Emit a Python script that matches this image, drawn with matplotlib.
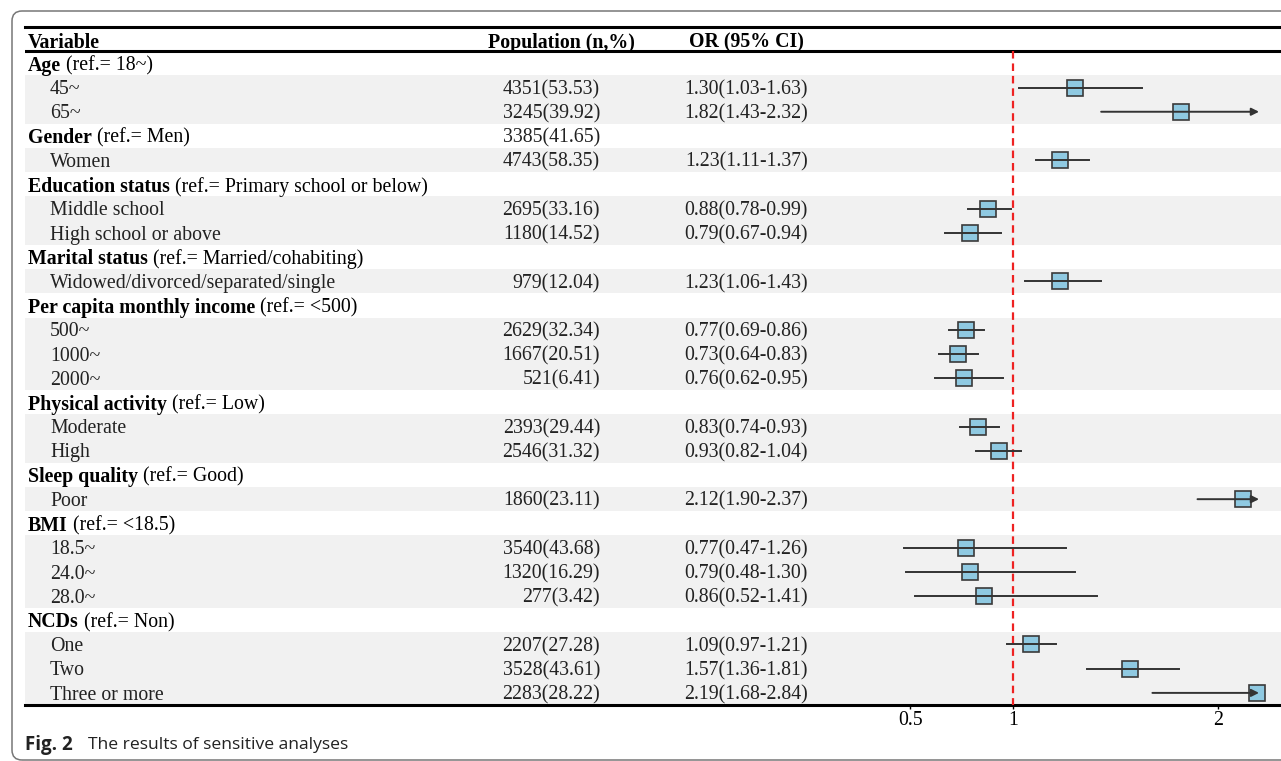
import matplotlib
matplotlib.use("Agg")
from matplotlib import pyplot as plt
from matplotlib import transforms
from matplotlib.patches import FancyBboxPatch

# table rows, top to bottom (ref is None for sub rows)
labels = ["Age", "45~", "65~", "Gender", "Women",
          "Education status", "Middle school", "High school or above",
          "Marital status", "Widowed/divorced/separated/single",
          "Per capita monthly income", "500~", "1000~", "2000~",
          "Physical activity", "Moderate", "High",
          "Sleep quality", "Poor",
          "BMI", "18.5~", "24.0~", "28.0~",
          "NCDs", "One", "Two", "Three or more"]
refs = ["(ref.= 18~)", None, None, "(ref.= Men)", None,
        "(ref.= Primary school or below)", None, None,
        "(ref.= Married/cohabiting)", None,
        "(ref.= <500)", None, None, None,
        "(ref.= Low)", None, None,
        "(ref.= Good)", None,
        "(ref.= <18.5)", None, None, None,
        "(ref.= Non)", None, None, None]
pops = ["", "4351(53.53)", "3245(39.92)", "3385(41.65)", "4743(58.35)",
        "", "2695(33.16)", "1180(14.52)",
        "", "979(12.04)",
        "", "2629(32.34)", "1667(20.51)", "521(6.41)",
        "", "2393(29.44)", "2546(31.32)",
        "", "1860(23.11)",
        "", "3540(43.68)", "1320(16.29)", "277(3.42)",
        "", "2207(27.28)", "3528(43.61)", "2283(28.22)"]
ors = [None, 1.30, 1.82, None, 1.23,
       None, 0.88, 0.79,
       None, 1.23,
       None, 0.77, 0.73, 0.76,
       None, 0.83, 0.93,
       None, 2.12,
       None, 0.77, 0.79, 0.86,
       None, 1.09, 1.57, 2.19]
lows = [None, 1.03, 1.43, None, 1.11,
        None, 0.78, 0.67,
        None, 1.06,
        None, 0.69, 0.64, 0.62,
        None, 0.74, 0.82,
        None, 1.90,
        None, 0.47, 0.48, 0.52,
        None, 0.97, 1.36, 1.68]
highs = [None, 1.63, 2.32, None, 1.37,
         None, 0.99, 0.94,
         None, 1.43,
         None, 0.86, 0.83, 0.95,
         None, 0.93, 1.04,
         None, 2.37,
         None, 1.26, 1.30, 1.41,
         None, 1.21, 1.81, 2.84]
xticks = [0.5, 1, 2]
cap = 2.2  # arrows are drawn where CI goes past this

serif = "Liberation Serif"
fs = 14.3
box_color = "#8fc9e1"
dy = 0.09  # nudge text down a little to sit like the original

fig = plt.figure(figsize=(12.81, 7.61), dpi=100)
W, H = 1281, 761

# rounded frame around the whole figure
frame = FancyBboxPatch((12, 1), 1320, 749, boxstyle="round,pad=0,rounding_size=10",
                       transform=None, facecolor="none", edgecolor="#777777", lw=1.1)
fig.patches.append(frame)

ax = fig.add_axes([25 / W, 1 - 705 / H, 1256 / W, 678 / H])
# linear OR scale: 1 -> 1013 px, 205 px per unit
ax.set_xlim(1 + (25 - 1013) / 205, 1 + (1281 - 1013) / 205)
ax.set_ylim(26.5, -1.5)
for s in ["left", "right"]:
    ax.spines[s].set_visible(False)
ax.spines["top"].set_linewidth(2.2)
ax.spines["bottom"].set_linewidth(2.2)
ax.axhline(-0.5, color="black", lw=2.2)

n = len(labels)
for i in range(n):
    if refs[i] is None:
        ax.axhspan(i - 0.5, i + 0.5, color="#f1f1f1", lw=0, zorder=0)

ax.vlines(1, -0.5, 26.5, colors="#ee2222", linestyles=(0, (3.4, 2.2)), lw=1.6, zorder=3)

for i in range(n):
    if ors[i] is None:
        continue
    hi = min(highs[i], cap)
    ax.plot(ors[i], i, marker="s", ms=11, mfc=box_color, mec="#3a3a3a", mew=1.2, zorder=5)
    if highs[i] > cap:
        ax.annotate("", xy=(hi, i), xytext=(lows[i], i),
                    arrowprops=dict(arrowstyle="-|>", color="#333333", lw=1.4,
                                    mutation_scale=11, shrinkA=0, shrinkB=0), zorder=6)
    else:
        ax.plot([lows[i], hi], [i, i], color="#333333", lw=1.4, zorder=6)

ax.set_yticks([])
ax.set_xticks(xticks)
ax.set_xticklabels(["0.5", "1", "2"], fontfamily=serif, fontsize=fs)
ax.tick_params(axis="x", direction="out", length=3, width=1, pad=1)

# text columns
tr = transforms.blended_transform_factory(ax.transAxes, ax.transData)
def fx(px):
    return (px - 25) / 1256

ax.text(fx(28), -0.93 + dy, "Variable", transform=tr, fontfamily=serif, fontsize=fs,
        fontweight="bold", va="center", ha="left")
ax.text(fx(561), -0.93 + dy, "Population (n,%)", transform=tr, fontfamily=serif, fontsize=fs,
        fontweight="bold", va="center", ha="center")
ax.text(fx(746), -0.93 + dy, "OR (95% CI)", transform=tr, fontfamily=serif, fontsize=fs,
        fontweight="bold", va="center", ha="center")

renderer = fig.canvas.get_renderer()
for i in range(n):
    y = i + dy
    if refs[i] is not None:
        t = ax.text(fx(28), y, labels[i], transform=tr, fontfamily=serif, fontsize=fs,
                    fontweight="bold", va="center", ha="left")
        bb = t.get_window_extent(renderer)
        ax.text(fx(bb.x1 + 5), y, refs[i], transform=tr, fontfamily=serif, fontsize=fs,
                va="center", ha="left")
    else:
        ax.text(fx(50), y, labels[i], transform=tr, fontfamily=serif, fontsize=fs,
                va="center", ha="left", color="#222222")
    if pops[i]:
        ax.text(fx(600), y, pops[i], transform=tr, fontfamily=serif, fontsize=fs,
                va="center", ha="right", color="#222222")
    if ors[i] is not None:
        s = "{:.2f}({:.2f}-{:.2f})".format(ors[i], lows[i], highs[i])
        ax.text(fx(808), y, s, transform=tr, fontfamily=serif, fontsize=fs,
                va="center", ha="right", color="#222222")

# caption
fig.text(25 / W, 1 - 745 / H, "Fig. 2", fontfamily="Open Sans", fontsize=13.5,
         fontweight="bold", va="center", ha="left", color="#222222")
fig.text(88 / W, 1 - 745 / H, "The results of sensitive analyses", fontfamily="Open Sans",
         fontsize=12.6, va="center", ha="left", color="#222222")

fig.savefig("out.png", dpi=100)
